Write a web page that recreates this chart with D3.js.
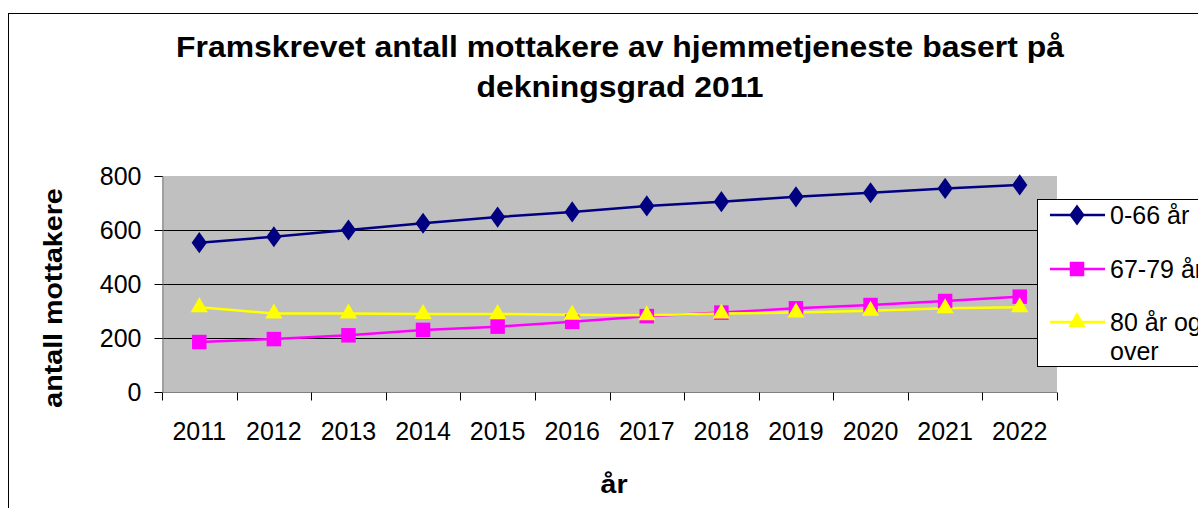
<!DOCTYPE html>
<html>
<head>
<meta charset="utf-8">
<script src="https://cdn.jsdelivr.net/npm/d3@7"></script>
<style>
    body { margin: 0; background: #fff; }
    svg text { font-family: "Liberation Sans", Arial, sans-serif; fill: #000; }
</style>
</head>
<body>
<div id="chart"></div>
<script>

const years = ["2011", "2012", "2013", "2014", "2015", "2016", "2017", "2018", "2019", "2020", "2021", "2022"];

const ung = [553, 575, 600, 625, 648, 667, 689, 705, 723, 738, 754, 767];       // 0-66 år
const mellom = [185, 196, 210, 230, 242, 260, 281, 294, 310, 322, 337, 353];    // 67-79 år
const eldst = [314, 291, 291, 289, 289, 286, 284, 291, 294, 301, 310, 314];     // 80 år og over

const yTicks = [0, 200, 400, 600, 800];

const seriesNames = ["0-66 år", "67-79 år", "80 år og over"];
const seriesColors = ["#000080", "#ff00ff", "#ffff00"];

const width = 1198;
const height = 508;

const svg = d3.select("#chart")
    .append("svg")
    .attr("width", width)
    .attr("height", height);

// outer frame (cut off at right and bottom like the original)
svg.append("rect")
    .attr("x", 8.5)
    .attr("y", 13.5)
    .attr("width", 1300)
    .attr("height", 600)
    .attr("fill", "none")
    .attr("stroke", "#000")
    .attr("stroke-width", 1);

const x = d3.scaleBand()
    .domain(years)
    .range([162, 1057]);

const y = d3.scaleLinear()
    .domain([0, 800])
    .range([392, 176]);

// plot area
svg.append("rect")
    .attr("x", x.range()[0])
    .attr("y", y(800))
    .attr("width", x.range()[1] - x.range()[0])
    .attr("height", y(0) - y(800))
    .attr("fill", "#c0c0c0");

// gridlines
svg.selectAll("line.grid")
    .data(yTicks.filter(d => d > 0 && d < 800))
    .enter()
    .append("line")
    .attr("class", "grid")
    .attr("x1", x.range()[0])
    .attr("x2", x.range()[1])
    .attr("y1", d => Math.round(y(d)) + 0.5)
    .attr("y2", d => Math.round(y(d)) + 0.5)
    .attr("stroke", "#000")
    .attr("stroke-width", 1);

// y axis
const yAxis = svg.append("g")
    .attr("transform", "translate(" + (x.range()[0] + 0.5) + ",0)")
    .call(d3.axisLeft(y).tickValues(yTicks).tickSize(8).tickPadding(13));

yAxis.select(".domain").attr("stroke", "#808080");
yAxis.selectAll(".tick line").attr("stroke", "#000");
yAxis.selectAll(".tick text")
    .attr("font-size", 25)
    .attr("font-family", "Liberation Sans, Arial, sans-serif");

// x axis, ticks on the band edges
const xAxisG = svg.append("g")
    .attr("transform", "translate(0," + (y(0) + 0.5) + ")");

xAxisG.append("line")
    .attr("x1", x.range()[0])
    .attr("x2", x.range()[1])
    .attr("stroke", "#808080");

const edges = years.map(d => x(d)).concat([x.range()[1]]);
xAxisG.selectAll("line.tick")
    .data(edges)
    .enter()
    .append("line")
    .attr("class", "tick")
    .attr("x1", d => Math.round(d) + 0.5)
    .attr("x2", d => Math.round(d) + 0.5)
    .attr("y1", 0)
    .attr("y2", 8)
    .attr("stroke", "#000");

xAxisG.selectAll("text")
    .data(years)
    .enter()
    .append("text")
    .attr("x", d => x(d) + x.bandwidth() / 2)
    .attr("y", 47)
    .attr("text-anchor", "middle")
    .attr("font-size", 25)
    .text(d => d);

// lines and markers
const allSeries = [ung, mellom, eldst];

const line = d3.line()
    .x((d, i) => x(years[i]) + x.bandwidth() / 2)
    .y(d => y(d));

const symbols = [d3.symbolDiamond, d3.symbolSquare, d3.symbolTriangle];
const symbolSizes = [130, 210, 130];

allSeries.forEach(function (vals, s) {
    svg.append("path")
        .datum(vals)
        .attr("d", line)
        .attr("fill", "none")
        .attr("stroke", seriesColors[s])
        .attr("stroke-width", 2.5);
});

allSeries.forEach(function (vals, s) {
    svg.selectAll("path.mark" + s)
        .data(vals)
        .enter()
        .append("path")
        .attr("class", "mark" + s)
        .attr("d", d3.symbol().type(symbols[s]).size(symbolSizes[s]))
        .attr("transform", (d, i) => "translate(" + (x(years[i]) + x.bandwidth() / 2) + "," + y(d) + ")" + (s === 0 ? " scale(1.25,1)" : ""))
        .attr("fill", seriesColors[s]);
});

// titles (the original text is a little wider than Liberation Sans Bold)
const title = svg.append("text")
    .attr("transform", "translate(620,0) scale(1.1,1)")
    .attr("text-anchor", "middle")
    .attr("font-size", 29)
    .attr("font-weight", "bold");

title.append("tspan").attr("x", 0).attr("y", 57).text("Framskrevet antall mottakere av hjemmetjeneste basert på");
title.append("tspan").attr("x", 0).attr("y", 97).text("dekningsgrad 2011");

svg.append("text")
    .attr("transform", "translate(62,298) rotate(-90) scale(1.1,1)")
    .attr("text-anchor", "middle")
    .attr("font-size", 26)
    .attr("font-weight", "bold")
    .text("antall mottakere");

svg.append("text")
    .attr("transform", "translate(614,493) scale(1.1,1)")
    .attr("text-anchor", "middle")
    .attr("font-size", 26)
    .attr("font-weight", "bold")
    .text("år");

// legend
const legend = svg.append("g");

legend.append("rect")
    .attr("x", 1037.5)
    .attr("y", 199.5)
    .attr("width", 200)
    .attr("height", 167)
    .attr("fill", "#fff")
    .attr("stroke", "#000");

const legendRows = [215, 269, 322];

seriesNames.forEach(function (name, s) {
    legend.append("line")
        .attr("x1", 1050)
        .attr("x2", 1105)
        .attr("y1", legendRows[s])
        .attr("y2", legendRows[s])
        .attr("stroke", seriesColors[s])
        .attr("stroke-width", 2.5);

    legend.append("path")
        .attr("d", d3.symbol().type(symbols[s]).size(symbolSizes[s])())
        .attr("transform", "translate(1077," + legendRows[s] + ")" + (s === 0 ? " scale(1.25,1)" : ""))
        .attr("fill", seriesColors[s]);

    const t = legend.append("text")
        .attr("x", 1110)
        .attr("y", legendRows[s] + 9)
        .attr("font-size", 25);

    if (s === 2) {
        t.append("tspan").attr("x", 1110).text("80 år og");
        t.append("tspan").attr("x", 1110).attr("dy", 29).text("over");
    } else {
        t.text(name);
    }
});

</script>
</body>
</html>
